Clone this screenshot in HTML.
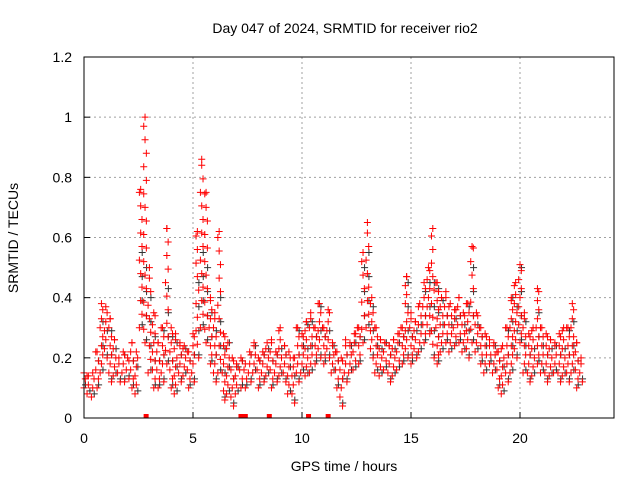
<!DOCTYPE html>
<html><head><meta charset="utf-8"><style>
body{margin:0;background:#fff;font-family:"Liberation Sans",sans-serif}
svg{display:block}
text{font-family:"Liberation Sans",sans-serif;font-size:14px;fill:#000}
</style></head><body>
<svg id="chart" width="640" height="480">
<text x="345" y="33" text-anchor="middle">Day 047 of 2024, SRMTID for receiver rio2</text>
<text x="344" y="471" text-anchor="middle">GPS time / hours</text>
<text transform="translate(18,238) rotate(-90)" text-anchor="middle">SRMTID / TECUs</text>
<g id="grid"></g><g id="marks"></g><g id="axes"></g>
</svg>
<script>
const times=[0.0,0.2,0.4,0.6,0.8,1.0,1.2,1.4,1.6,1.8,2.0,2.2,2.4,2.6,2.8,3.0,3.2,3.4,3.6,3.8,4.0,4.2,4.4,4.6,4.8,5.0,5.2,5.4,5.6,5.8,6.0,6.2,6.4,6.6,6.8,7.0,7.2,7.4,7.6,7.8,8.0,8.2,8.4,8.6,8.8,9.0,9.2,9.4,9.6,9.8,10.0,10.2,10.4,10.6,10.8,11.0,11.2,11.4,11.6,11.8,12.0,12.2,12.4,12.6,12.8,13.0,13.2,13.4,13.6,13.8,14.0,14.2,14.4,14.6,14.8,15.0,15.2,15.4,15.6,15.8,16.0,16.2,16.4,16.6,16.8,17.0,17.2,17.4,17.6,17.8,18.0,18.2,18.4,18.6,18.8,19.0,19.2,19.4,19.6,19.8,20.0,20.2,20.4,20.6,20.8,21.0,21.2,21.4,21.6,21.8,22.0,22.2,22.4,22.6,22.8];
const loVals=[.10,.08,.07,.10,.15,.20,.12,.14,.12,.12,.13,.10,.08,.30,.25,.15,.10,.10,.12,.18,.10,.08,.12,.14,.10,.12,.20,.30,.25,.18,.12,.15,.06,.08,.04,.08,.10,.10,.12,.15,.10,.12,.14,.10,.12,.14,.12,.08,.05,.12,.15,.14,.15,.18,.20,.18,.20,.15,.10,.04,.12,.15,.16,.18,.25,.30,.20,.15,.14,.16,.12,.14,.16,.18,.20,.18,.20,.22,.25,.28,.20,.18,.22,.25,.22,.24,.25,.22,.20,.25,.22,.18,.15,.18,.15,.10,.08,.12,.15,.20,.25,.15,.12,.14,.18,.15,.12,.14,.15,.12,.14,.12,.15,.10,.12];
const hiVals=[.15,.14,.15,.22,.38,.37,.33,.26,.20,.22,.20,.25,.22,.76,1.0,.50,.35,.25,.30,.63,.30,.28,.25,.24,.22,.28,.62,.86,.75,.40,.35,.62,.28,.25,.20,.18,.20,.18,.22,.25,.20,.22,.25,.26,.22,.30,.24,.22,.20,.30,.28,.32,.35,.30,.38,.30,.36,.25,.22,.20,.26,.25,.28,.30,.55,.65,.40,.30,.26,.25,.24,.26,.28,.30,.47,.35,.32,.38,.45,.50,.63,.45,.40,.42,.38,.36,.40,.35,.38,.57,.35,.30,.28,.26,.25,.22,.24,.30,.40,.45,.51,.35,.28,.30,.43,.30,.28,.26,.25,.28,.30,.30,.38,.25,.20];
const zeroTimes=[2.85,7.2,7.3,7.4,8.5,10.3,11.2];
const xTicks=[0,5,10,15,20];
const yTicks=[0,0.2,0.4,0.6,0.8,1,1.2];
const yTickLabels=["0","0.2","0.4","0.6","0.8","1","1.2"];

const X0=84,X1=614,Y0=418,Y1=57,XMAX=(X1-X0)/21.8;
const xs=t=>X0+(t/XMAX)*(X1-X0);
const ys=v=>Y0-(v/1.2)*(Y0-Y1);
const NS="http://www.w3.org/2000/svg";
function mk(tag,attrs,parent){const e=document.createElementNS(NS,tag);for(const k in attrs)e.setAttribute(k,attrs[k]);parent.appendChild(e);return e;}
const grid=document.getElementById('grid'),marks=document.getElementById('marks'),axes=document.getElementById('axes');
xTicks.forEach((t,i)=>{
  if(t>0){const g=mk('line',{x1:xs(t),x2:xs(t),y1:Y1,y2:Y0,stroke:'#a0a0a0','stroke-dasharray':'2,3'},grid);
  
  }
  const tk=mk('line',{x1:xs(t),x2:xs(t),y1:Y0,y2:Y0-6,stroke:'#000'},axes);
  
  
  const lb=mk('text',{x:xs(t),y:443,'text-anchor':'middle'},axes);lb.textContent=t;
  
  
});
yTicks.forEach((v,i)=>{
  if(v>0&&v<1.2){const g=mk('line',{x1:X0,x2:X1,y1:ys(v),y2:ys(v),stroke:'#a0a0a0','stroke-dasharray':'2,3'},grid);
  
  }
  const tk=mk('line',{x1:X0,x2:X0+6,y1:ys(v),y2:ys(v),stroke:'#000'},axes);
  
  
  const lb=mk('text',{x:72,y:ys(v)+5,'text-anchor':'end'},axes);lb.textContent=yTickLabels[i];
  
  
});
const fr=mk('rect',{x:X0,y:Y1,width:X1-X0,height:Y0-Y1,fill:'none',stroke:'#000'},axes);


function cross(t,v,color,name){
  const x=xs(t),y=ys(v);
  const p=mk('path',{d:`M${x-3.5},${y}h7M${x},${y-3.5}v7`,stroke:color,'stroke-width':1,fill:'none'},marks);
  
  
}
times.forEach((t,i)=>{
  const lo=loVals[i],hi=hiVals[i];
  for(let v=lo+0.01;v<=Math.min(hi,lo+0.3);v+=0.08) cross(t+0.07,v,'#333','black-point');
  const step=(hi-lo)>0.3?0.045:0.03;
  for(let v=lo;v<=hi+1e-9;v+=step){
    const off=(Math.round(v*40)%3-1)*0.06;
    cross(t+off,v,'#ff0000','red-point');
  }
  cross(t,hi,'#ff0000','red-point');
});
zeroTimes.forEach(t=>{
  const r=mk('rect',{x:xs(t)-2.5,y:Y0-4,width:5,height:4,fill:'#ff0000'},marks);
  
  
});
</script>
</body></html>
